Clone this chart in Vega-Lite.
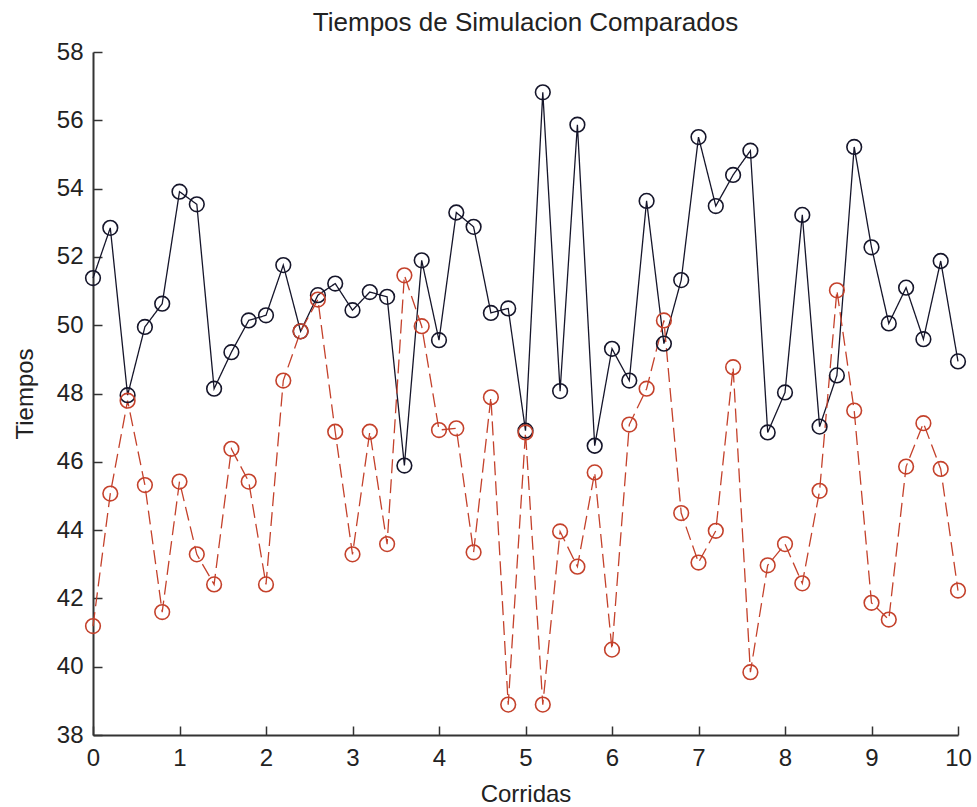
{
  "$schema": "https://vega.github.io/schema/vega-lite/v6.json",
  "width": 865,
  "height": 683,
  "autosize": {"type": "none"},
  "padding": {"left": 93, "top": 52, "right": 19, "bottom": 72},
  "background": "white",
  "title": {"text": "Tiempos de Simulacion Comparados", "fontSize": 26, "font": "Liberation Sans", "fontWeight": "normal", "color": "#222222", "offset": 4, "anchor": "middle"},
  "config": {
    "view": {"stroke": null},
    "axis": {"grid": false, "labelFont": "Liberation Sans", "labelFontSize": 24, "labelColor": "#222222", "titleFont": "Liberation Sans", "titleFontSize": 24, "titleFontWeight": "normal", "titleColor": "#222222", "domainColor": "#333333", "domainWidth": 2, "tickColor": "#333333", "tickWidth": 1.5, "tickSize": -9}
  },
  "datasets": {
    "d": [
      {"x": 0, "serie": "A", "t": 51.38}, {"x": 0.2, "serie": "A", "t": 52.85}, {"x": 0.4, "serie": "A", "t": 47.95}, {"x": 0.6, "serie": "A", "t": 49.95}, {"x": 0.8, "serie": "A", "t": 50.63},
      {"x": 1.0, "serie": "A", "t": 53.91}, {"x": 1.2, "serie": "A", "t": 53.54}, {"x": 1.4, "serie": "A", "t": 48.14}, {"x": 1.6, "serie": "A", "t": 49.21}, {"x": 1.8, "serie": "A", "t": 50.14},
      {"x": 2.0, "serie": "A", "t": 50.29}, {"x": 2.2, "serie": "A", "t": 51.76}, {"x": 2.4, "serie": "A", "t": 49.82}, {"x": 2.6, "serie": "A", "t": 50.88}, {"x": 2.8, "serie": "A", "t": 51.22},
      {"x": 3.0, "serie": "A", "t": 50.44}, {"x": 3.2, "serie": "A", "t": 50.97}, {"x": 3.4, "serie": "A", "t": 50.83}, {"x": 3.6, "serie": "A", "t": 45.89}, {"x": 3.8, "serie": "A", "t": 51.9},
      {"x": 4.0, "serie": "A", "t": 49.56}, {"x": 4.2, "serie": "A", "t": 53.3}, {"x": 4.4, "serie": "A", "t": 52.88}, {"x": 4.6, "serie": "A", "t": 50.36}, {"x": 4.8, "serie": "A", "t": 50.49},
      {"x": 5.0, "serie": "A", "t": 46.91}, {"x": 5.2, "serie": "A", "t": 56.82}, {"x": 5.4, "serie": "A", "t": 48.07}, {"x": 5.6, "serie": "A", "t": 55.87}, {"x": 5.8, "serie": "A", "t": 46.47},
      {"x": 6.0, "serie": "A", "t": 49.31}, {"x": 6.2, "serie": "A", "t": 48.38}, {"x": 6.4, "serie": "A", "t": 53.64}, {"x": 6.6, "serie": "A", "t": 49.46}, {"x": 6.8, "serie": "A", "t": 51.32},
      {"x": 7.0, "serie": "A", "t": 55.51}, {"x": 7.2, "serie": "A", "t": 53.49}, {"x": 7.4, "serie": "A", "t": 54.4}, {"x": 7.6, "serie": "A", "t": 55.11}, {"x": 7.8, "serie": "A", "t": 46.86},
      {"x": 8.0, "serie": "A", "t": 48.03}, {"x": 8.2, "serie": "A", "t": 53.23}, {"x": 8.4, "serie": "A", "t": 47.03}, {"x": 8.6, "serie": "A", "t": 48.53}, {"x": 8.8, "serie": "A", "t": 55.22},
      {"x": 9.0, "serie": "A", "t": 52.28}, {"x": 9.2, "serie": "A", "t": 50.05}, {"x": 9.4, "serie": "A", "t": 51.1}, {"x": 9.6, "serie": "A", "t": 49.59}, {"x": 9.8, "serie": "A", "t": 51.88},
      {"x": 10.0, "serie": "A", "t": 48.94},
      {"x": 0, "serie": "B", "t": 41.19}, {"x": 0.2, "serie": "B", "t": 45.07}, {"x": 0.4, "serie": "B", "t": 47.79}, {"x": 0.6, "serie": "B", "t": 45.32}, {"x": 0.8, "serie": "B", "t": 41.6},
      {"x": 1.0, "serie": "B", "t": 45.42}, {"x": 1.2, "serie": "B", "t": 43.29}, {"x": 1.4, "serie": "B", "t": 42.41}, {"x": 1.6, "serie": "B", "t": 46.38}, {"x": 1.8, "serie": "B", "t": 45.42},
      {"x": 2.0, "serie": "B", "t": 42.41}, {"x": 2.2, "serie": "B", "t": 48.38}, {"x": 2.4, "serie": "B", "t": 49.82}, {"x": 2.6, "serie": "B", "t": 50.75}, {"x": 2.8, "serie": "B", "t": 46.88},
      {"x": 3.0, "serie": "B", "t": 43.29}, {"x": 3.2, "serie": "B", "t": 46.88}, {"x": 3.4, "serie": "B", "t": 43.59}, {"x": 3.6, "serie": "B", "t": 51.46}, {"x": 3.8, "serie": "B", "t": 49.97},
      {"x": 4.0, "serie": "B", "t": 46.93}, {"x": 4.2, "serie": "B", "t": 46.98}, {"x": 4.4, "serie": "B", "t": 43.35}, {"x": 4.6, "serie": "B", "t": 47.89}, {"x": 4.8, "serie": "B", "t": 38.89},
      {"x": 5.0, "serie": "B", "t": 46.86}, {"x": 5.2, "serie": "B", "t": 38.89}, {"x": 5.4, "serie": "B", "t": 43.96}, {"x": 5.6, "serie": "B", "t": 42.93}, {"x": 5.8, "serie": "B", "t": 45.69},
      {"x": 6.0, "serie": "B", "t": 40.5}, {"x": 6.2, "serie": "B", "t": 47.09}, {"x": 6.4, "serie": "B", "t": 48.14}, {"x": 6.6, "serie": "B", "t": 50.14}, {"x": 6.8, "serie": "B", "t": 44.5},
      {"x": 7.0, "serie": "B", "t": 43.05}, {"x": 7.2, "serie": "B", "t": 43.98}, {"x": 7.4, "serie": "B", "t": 48.77}, {"x": 7.6, "serie": "B", "t": 39.84}, {"x": 7.8, "serie": "B", "t": 42.97},
      {"x": 8.0, "serie": "B", "t": 43.59}, {"x": 8.2, "serie": "B", "t": 42.44}, {"x": 8.4, "serie": "B", "t": 45.15}, {"x": 8.6, "serie": "B", "t": 51.02}, {"x": 8.8, "serie": "B", "t": 47.5},
      {"x": 9.0, "serie": "B", "t": 41.87}, {"x": 9.2, "serie": "B", "t": 41.38}, {"x": 9.4, "serie": "B", "t": 45.86}, {"x": 9.6, "serie": "B", "t": 47.13}, {"x": 9.8, "serie": "B", "t": 45.79},
      {"x": 10.0, "serie": "B", "t": 42.23}
    ]
  },
  "data": {"name": "d"},
  "encoding": {
    "x": {"field": "x", "type": "quantitative", "title": "Corridas", "scale": {"domain": [0, 10], "nice": false, "zero": false}, "axis": {"values": [0, 1, 2, 3, 4, 5, 6, 7, 8, 9, 10], "format": "d", "labelPadding": 20, "titlePadding": 12, "labelFlush": false}},
    "y": {"field": "t", "type": "quantitative", "title": "Tiempos", "scale": {"domain": [38, 58], "nice": false, "zero": false}, "axis": {"values": [38, 40, 42, 44, 46, 48, 50, 52, 54, 56, 58], "labelPadding": 19, "titlePadding": 19, "labelFlush": false}},
    "color": {"field": "serie", "type": "nominal", "legend": null, "scale": {"domain": ["A", "B"], "range": ["#15152a", "#c4412b"]}}
  },
  "layer": [
    {"mark": {"type": "line", "strokeWidth": 1.3}, "encoding": {"strokeDash": {"field": "serie", "type": "nominal", "legend": null, "scale": {"domain": ["A", "B"], "range": [[1, 0], [14, 6]]}}}},
    {"mark": {"type": "point", "shape": "circle", "filled": false, "size": 215, "strokeWidth": 1.6, "opacity": 1}}
  ]
}
